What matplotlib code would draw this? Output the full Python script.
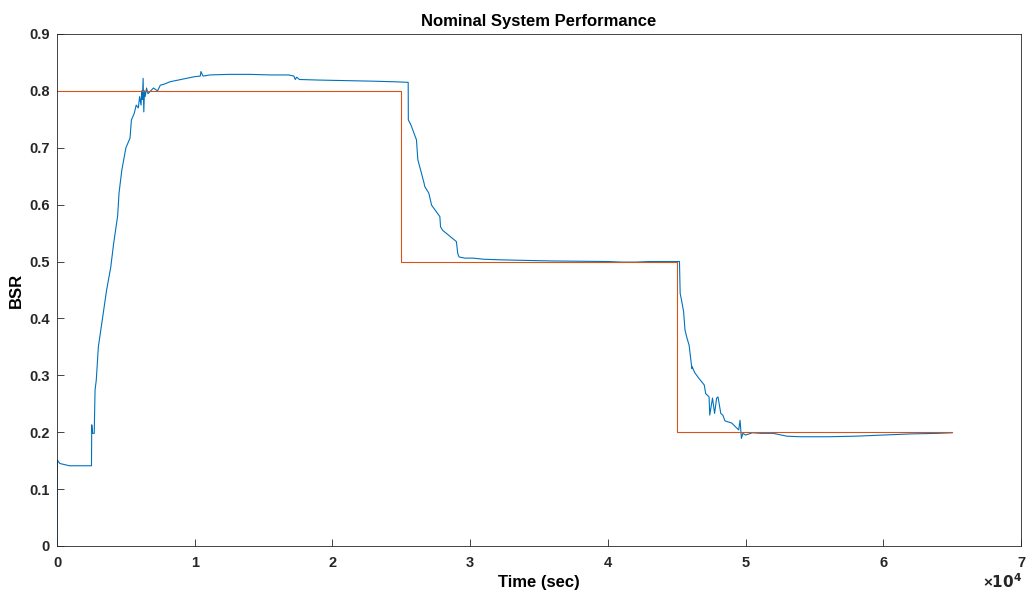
import matplotlib
matplotlib.use("Agg")
import matplotlib.pyplot as plt

# Measured BSR (time in units of 1e4 sec)
t_bsr = [0.0, 0.002, 0.02, 0.09, 0.25, 0.252, 0.258, 0.27, 0.276, 0.285, 0.30,
         0.33, 0.36, 0.39, 0.41, 0.44, 0.45, 0.47, 0.50, 0.53, 0.54, 0.56,
         0.575, 0.59, 0.60, 0.61, 0.615, 0.62, 0.625, 0.63, 0.635, 0.64,
         0.65, 0.66, 0.68, 0.70, 0.73, 0.75, 0.78, 0.82, 0.90, 1.00, 1.04,
         1.045, 1.06, 1.11, 1.25, 1.40, 1.55, 1.68, 1.72, 1.73, 1.74, 1.76,
         1.90, 2.10, 2.30, 2.45, 2.55, 2.551, 2.57, 2.61, 2.62, 2.64, 2.665,
         2.67, 2.70, 2.72, 2.78, 2.785, 2.80, 2.90, 2.91, 2.92, 2.96, 3.02,
         3.10, 3.22, 3.40, 3.60, 3.80, 4.00, 4.10, 4.20, 4.30, 4.52, 4.525,
         4.535, 4.55, 4.56, 4.575, 4.59, 4.61, 4.612, 4.63, 4.66, 4.70, 4.71,
         4.735, 4.74, 4.76, 4.775, 4.79, 4.80, 4.82, 4.835, 4.85, 4.90, 4.95,
         4.96, 4.97, 4.98, 5.00, 5.05, 5.11, 5.20, 5.30, 5.40, 5.60, 5.80,
         6.00, 6.20, 6.40, 6.50]
bsr = [0.0, 0.151, 0.145, 0.141, 0.141, 0.213, 0.198, 0.198, 0.274, 0.292,
       0.35, 0.40, 0.45, 0.49, 0.53, 0.58, 0.62, 0.66, 0.70, 0.717, 0.749,
       0.76, 0.775, 0.77, 0.79, 0.775, 0.80, 0.785, 0.822, 0.763, 0.80, 0.79,
       0.805, 0.795, 0.80, 0.805, 0.80, 0.81, 0.812, 0.816, 0.82, 0.825,
       0.826, 0.834, 0.826, 0.828, 0.829, 0.829, 0.828, 0.828, 0.826, 0.82,
       0.824, 0.82, 0.819, 0.818, 0.817, 0.816, 0.815, 0.749, 0.740, 0.714,
       0.679, 0.661, 0.638, 0.632, 0.620, 0.599, 0.579, 0.561, 0.555, 0.535,
       0.514, 0.508, 0.506, 0.506, 0.504, 0.503, 0.502, 0.501, 0.5005, 0.500,
       0.499, 0.499, 0.500, 0.500, 0.444, 0.432, 0.412, 0.380, 0.365, 0.353,
       0.312, 0.315, 0.305, 0.295, 0.283, 0.268, 0.262, 0.230, 0.260, 0.233,
       0.260, 0.262, 0.233, 0.230, 0.220, 0.216, 0.204, 0.221, 0.189, 0.198,
       0.195, 0.199, 0.198, 0.198, 0.193, 0.192, 0.192, 0.193, 0.195, 0.197,
       0.198, 0.199]

# Reference BSR (step command)
t_ref = [0.0, 2.5, 2.5, 4.5, 4.5, 6.5]
bsr_ref = [0.8, 0.8, 0.5, 0.5, 0.2, 0.2]

plt.rcParams["font.family"] = ["Liberation Sans", "DejaVu Sans"]
plt.rcParams["font.weight"] = "bold"
plt.rcParams["mathtext.default"] = "bf"

fig = plt.figure(figsize=(10.26, 5.93), dpi=100)
ax = fig.add_axes([0.0556, 0.0793, 0.9395, 0.8634])

ax.plot([t * 1e4 for t in t_bsr], bsr, color="#0072BD", lw=0.8)
ax.plot([t * 1e4 for t in t_ref], bsr_ref, color="#D95319", lw=0.8)

ax.set_xlim(0, 7e4)
ax.set_ylim(0, 0.9)
ax.set_xticks([i * 1e4 for i in range(8)])
ax.set_xticklabels([str(i) for i in range(8)])
ax.set_yticks([i / 10 for i in range(10)])
ax.set_yticklabels(["0"] + [f"{i / 10:.1f}" for i in range(1, 10)])
ax.tick_params(direction="in", length=5, width=0.6, labelsize=10.5,
               colors="#262626")
ax.tick_params(axis="x", pad=7)
ax.tick_params(axis="y", pad=5)
for s in ax.spines.values():
    s.set_color("#262626")
    s.set_linewidth(0.6)

ax.set_title("Nominal System Performance", fontsize=12, fontweight="bold",
             pad=6)
ax.set_xlabel("Time (sec)", fontsize=12, fontweight="bold", labelpad=4)
ax.set_ylabel("BSR", fontsize=12, fontweight="bold", labelpad=4)

fig.text(1022 / 1026, 2 / 593, r"$\mathregular{\times}10^{4}$", fontsize=11,
         ha="right", va="bottom", color="#262626")

fig.savefig("out.png", dpi=100)
